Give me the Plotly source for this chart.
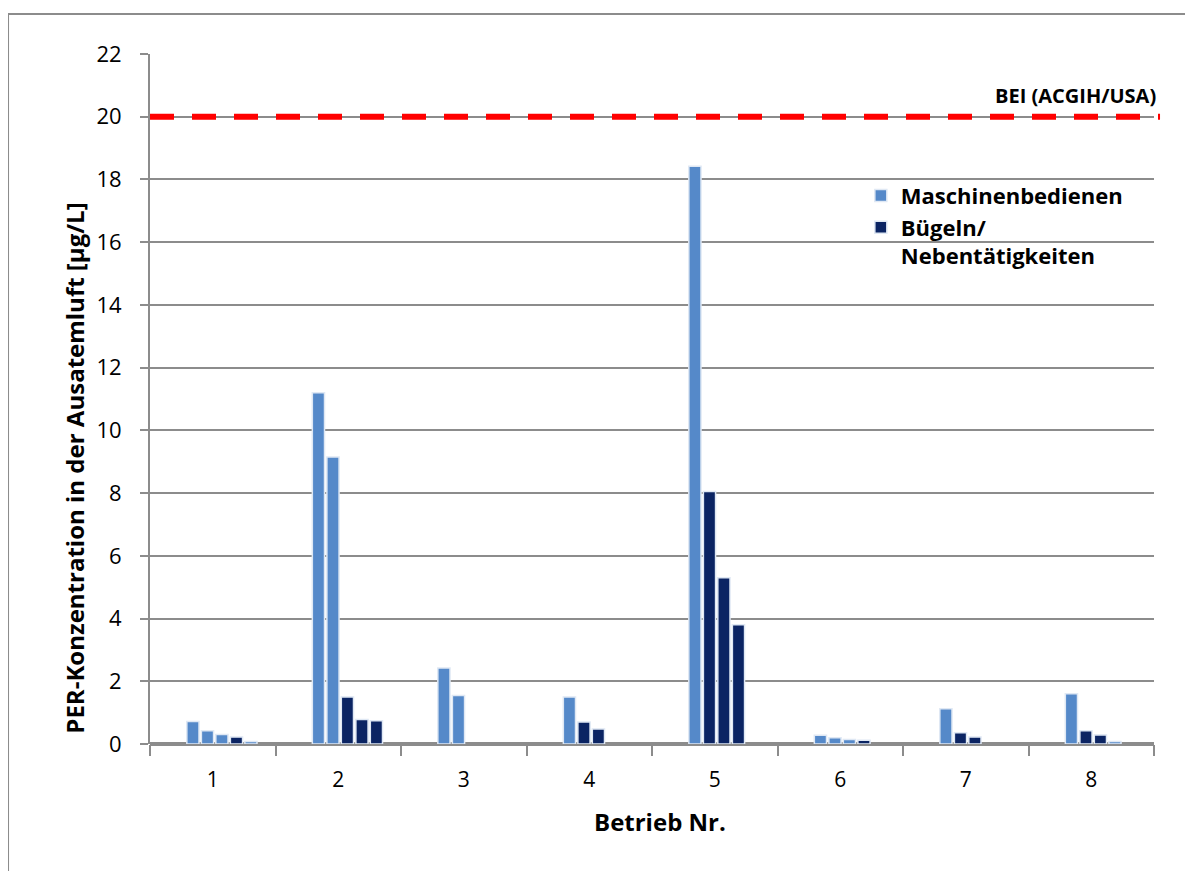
import plotly.graph_objects as go

# ---------------- data ----------------
betrieb_labels = ["1", "2", "3", "4", "5", "6", "7", "8"]
y_ticks = [0, 2, 4, 6, 8, 10, 12, 14, 16, 18, 20, 22]

# Maschinenbedienen: Betrieb, Position in der Gruppe, Wert [µg/L]
masch_betrieb = [1, 1, 1, 1, 2, 2, 3, 3, 4, 5, 6, 6, 6, 7, 8, 8]
masch_slot = [0, 1, 2, 4, 0, 1, 0, 1, 0, 0, 0, 1, 2, 0, 0, 3]
masch_values = [0.72, 0.42, 0.30, 0.08, 11.2, 9.15, 2.42, 1.55, 1.50, 18.42,
                0.28, 0.20, 0.14, 1.12, 1.60, 0.08]

# Bügeln / Nebentätigkeiten
bueg_betrieb = [1, 2, 2, 2, 4, 4, 5, 5, 5, 6, 7, 7, 8, 8]
bueg_slot = [3, 2, 3, 4, 1, 2, 1, 2, 3, 3, 1, 2, 1, 2]
bueg_values = [0.22, 1.50, 0.78, 0.74, 0.70, 0.48, 8.05, 5.30, 3.80, 0.12,
               0.36, 0.22, 0.42, 0.29]

bei_value = 20  # BEI (ACGIH/USA)

# ---------------- layout helpers ----------------
slot_offsets = [-0.158, -0.042, 0.073, 0.189, 0.304]
bar_w = 0.097

LIGHT = "#5589c9"
DARK = "#0b2463"
GRID = "#8c8c8c"
FONT = "Open Sans"


def xpos(b, s):
    return [bb + slot_offsets[ss] for bb, ss in zip(b, s)]


fig = go.Figure()
fig.add_trace(go.Bar(
    x=xpos(masch_betrieb, masch_slot), y=masch_values, width=bar_w,
    name="Maschinenbedienen",
    marker=dict(color=LIGHT, line=dict(color="#dfe8f4", width=1.5)),
))
fig.add_trace(go.Bar(
    x=xpos(bueg_betrieb, bueg_slot), y=bueg_values, width=bar_w,
    name="Bügeln/<br>Nebentätigkeiten",
    marker=dict(color=DARK, line=dict(color="#dfe8f4", width=1.5)),
))

# BEI line
fig.add_shape(type="line", xref="paper", yref="y", x0=0, x1=1.006,
              y0=bei_value, y1=bei_value,
              line=dict(color="#ff0000", width=6, dash="24px,18px"), layer="above")
fig.add_annotation(xref="paper", yref="y", x=1.004, y=bei_value, xanchor="right",
                   yanchor="bottom", yshift=6, showarrow=False,
                   text="<b>BEI (ACGIH/USA)</b>",
                   font=dict(family=FONT, size=20, color="black"))

# y-axis title
fig.add_annotation(xref="paper", yref="paper", x=-0.0747, y=0.399,
                   xanchor="center", yanchor="middle", textangle=-90,
                   showarrow=False,
                   text="<b>PER-Konzentration in der Ausatemluft [µg/L]</b>",
                   font=dict(family=FONT, size=24, color="black"))

# x-axis title
fig.add_annotation(xref="paper", yref="paper", x=0.508, y=-0.113,
                   xanchor="center", yanchor="middle", showarrow=False,
                   text="<b>Betrieb Nr.</b>",
                   font=dict(family=FONT, size=24, color="black"))

# outer border
fig.add_shape(type="rect", xref="paper", yref="paper",
              x0=-0.1414, x1=1.1, y0=-0.25, y1=1.058,
              line=dict(color="#8c8c8c", width=2), fillcolor="rgba(0,0,0,0)", layer="below")

fig.update_layout(
    width=1193, height=871,
    margin=dict(l=142, r=47, t=46, b=135),
    paper_bgcolor="white", plot_bgcolor="white",
    font=dict(family=FONT, size=21, color="black"),
    barmode="overlay",
    showlegend=True,
    legend=dict(x=0.708, y=0.825, xanchor="left", yanchor="top",
                bgcolor="rgba(0,0,0,0)", valign="top",
                font=dict(family=FONT, size=22, color="black", weight="bold"),
                itemwidth=30, tracegroupgap=0),
    xaxis=dict(
        range=[0.5, 8.5], tickmode="array", tickvals=list(range(1, 9)),
        ticktext=betrieb_labels, ticks="outside", ticklen=17,
        tickcolor="rgba(0,0,0,0)", showgrid=False, zeroline=False,
        showline=False,
        minor=dict(tick0=0.5, dtick=1, ticks="outside", ticklen=11,
                   tickcolor=GRID, tickwidth=2, showgrid=False),
        tickfont=dict(family=FONT, size=21),
    ),
    yaxis=dict(
        range=[0, 22], tickmode="array", tickvals=y_ticks,
        ticks="outside", ticklen=8, tickcolor=GRID, tickwidth=2,
        ticklabelstandoff=14,
        showgrid=True, gridcolor=GRID, gridwidth=2,
        zeroline=True, zerolinecolor=GRID, zerolinewidth=4,
        showline=True, linecolor=GRID, linewidth=2,
        tickfont=dict(family=FONT, size=22),
    ),
)

fig.write_html("out.html")
